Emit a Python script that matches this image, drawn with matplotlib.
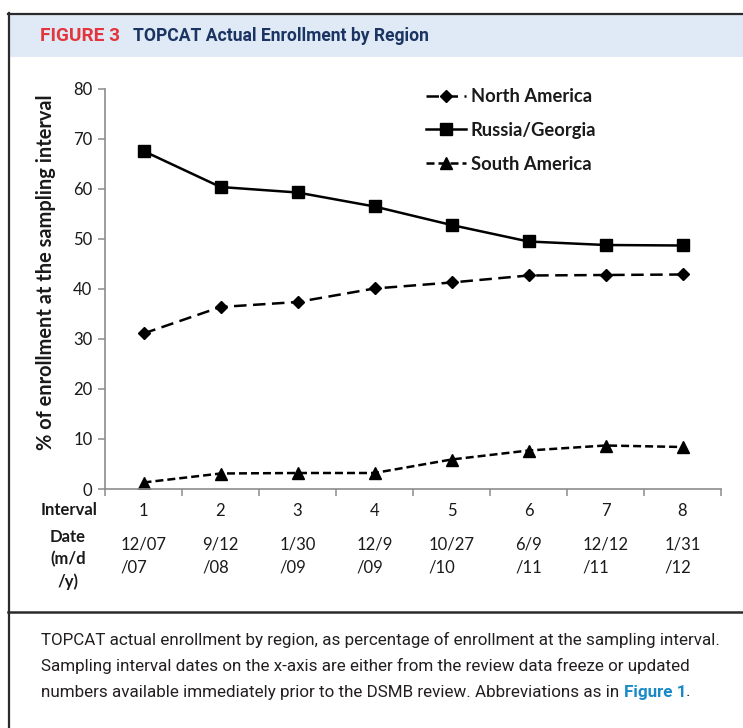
import matplotlib
matplotlib.use('Agg')
import matplotlib.pyplot as plt
import matplotlib.transforms as mtransforms
from matplotlib.patches import Rectangle
from matplotlib.lines import Line2D

# ---------------- data ----------------
intervals = [1, 2, 3, 4, 5, 6, 7, 8]
interval_labels = ['1', '2', '3', '4', '5', '6', '7', '8']
date_labels = ['12/07\n/07', '9/12\n/08', '1/30\n/09', '12/9\n/09',
               '10/27\n/10', '6/9\n/11', '12/12\n/11', '1/31\n/12']
north_america = [31.1, 36.4, 37.4, 40.1, 41.3, 42.7, 42.8, 42.9]
russia_georgia = [67.6, 60.4, 59.3, 56.5, 52.8, 49.5, 48.8, 48.7]
south_america = [1.3, 3.1, 3.2, 3.2, 5.9, 7.7, 8.7, 8.4]
y_ticks = [0, 10, 20, 30, 40, 50, 60, 70, 80]

title_fig = 'FIGURE 3'
title_txt = 'TOPCAT Actual Enrollment by Region'
caption_lines = [
    'TOPCAT actual enrollment by region, as percentage of enrollment at the sampling interval.',
    'Sampling interval dates on the x-axis are either from the review data freeze or updated',
    'numbers available immediately prior to the DSMB review. Abbreviations as in ',
]

W, H = 743, 728
fig = plt.figure(figsize=(W / 100, H / 100), dpi=100)
fig.patch.set_facecolor('white')


def fx(x):
    return x / W


def fy(y):
    return 1 - y / H


chart_font = ['Lato', 'DejaVu Sans']
cond_font = ['Roboto', 'DejaVu Sans']
renderer = fig.canvas.get_renderer()


def fit_w(t, width_px):
    bb = t.get_window_extent(renderer)
    t.set_fontsize(t.get_fontsize() * width_px / bb.width)


def fit_h(t, h_px):
    bb = t.get_window_extent(renderer)
    t.set_fontsize(t.get_fontsize() * h_px / bb.height)


# ---------------- frame / header ----------------
fig.add_artist(Rectangle((fx(9), fy(57)), 1 - fx(9), (57 - 14) / H,
                         transform=fig.transFigure, facecolor='#dfeaf6',
                         edgecolor='none', zorder=0))
fig.add_artist(Line2D([fx(8), 1], [fy(13.5), fy(13.5)], transform=fig.transFigure,
                      color='#2b2b2b', lw=1.6))
fig.add_artist(Line2D([fx(8.5), fx(8.5)], [fy(13), 0], transform=fig.transFigure,
                      color='#2b2b2b', lw=1.6))
fig.add_artist(Line2D([fx(8), 1], [fy(611.5), fy(611.5)], transform=fig.transFigure,
                      color='#2b2b2b', lw=1.8))

t1 = fig.text(fx(40), fy(36), title_fig, family=cond_font, weight='bold',
              color='#e2363c', fontsize=11, va='center', ha='left')
t2 = fig.text(fx(133), fy(36), title_txt, family=cond_font, weight='bold',
              color='#1b3461', fontsize=12.5, va='center', ha='left')
fit_w(t2, 297)
fit_w(t1, 80)

# ---------------- axes ----------------
ax = fig.add_axes([fx(105), fy(489), (721 - 105) / W, (489 - 89) / H])
ax.plot(intervals, north_america, color='black', lw=1.8, dashes=(5.0, 2.6),
        marker='D', markersize=6, label='North America')
ax.plot(intervals, russia_georgia, color='black', lw=1.8, linestyle='-',
        marker='s', markersize=8, label='Russia/Georgia')
ax.plot(intervals, south_america, color='black', lw=1.8, dashes=(3.2, 1.6),
        marker='^', markersize=8, label='South America')

ax.set_xlim(0.5, 8.5)
ax.set_ylim(0, 80)
for s in ['top', 'right']:
    ax.spines[s].set_visible(False)
for s in ['left', 'bottom']:
    ax.spines[s].set_color('#8c8c8c')
    ax.spines[s].set_linewidth(1.2)

ax.set_yticks(y_ticks)
ax.set_yticklabels([str(v) for v in y_ticks], family=chart_font, fontsize=12,
                   color='#1a1a1a')
ax.tick_params(axis='y', direction='out', length=5, width=1.1, color='#8c8c8c', pad=4)
ax.set_xticks([])
ax.set_xticks([i - 0.5 for i in intervals] + [intervals[-1] + 0.5], minor=True)
ax.tick_params(axis='x', which='minor', direction='out', length=5, width=1.1,
               color='#8c8c8c')

bt = mtransforms.blended_transform_factory(ax.transData, fig.transFigure)
for xi, lab, dl in zip(intervals, interval_labels, date_labels):
    ax.text(xi, fy(511), lab, transform=bt, ha='center', va='center',
            family=chart_font, fontsize=12, color='#1a1a1a', clip_on=False)
    ax.text(xi, fy(537), dl, transform=bt, ha='center', va='top',
            multialignment='left', family=chart_font, fontsize=12,
            color='#1a1a1a', linespacing=1.5, clip_on=False)

fig.text(fx(97), fy(510), 'Interval', family=chart_font, weight='bold',
         fontsize=12, ha='right', va='center', color='#1a1a1a')
fig.text(fx(68), fy(529), 'Date\n(m/d\n/y)', family=chart_font, weight='bold',
         fontsize=12, ha='center', va='top', multialignment='center',
         linespacing=1.45, color='#1a1a1a')

yl = fig.text(fx(46), fy(272), '% of enrollment at the sampling interval',
              family=chart_font, weight='bold', fontsize=11.5, rotation=90,
              ha='center', va='center', color='#1a1a1a')
fit_h(yl, 354)

leg = fig.legend(loc='upper left', bbox_to_anchor=(fx(426), fy(88)),
                 bbox_transform=fig.transFigure, frameon=False, numpoints=1,
                 borderpad=0, borderaxespad=0, handlelength=2.2,
                 handletextpad=0.25, labelspacing=0.92,
                 prop={'family': chart_font, 'weight': 'bold', 'size': 13.2})
for t in leg.get_texts():
    t.set_color('#1a1a1a')

# ---------------- caption ----------------
cap_texts = []
ys = [640, 666, 692]
for yy, line in zip(ys, caption_lines):
    cap_texts.append(fig.text(fx(41), fy(yy), line, family=cond_font, fontsize=12,
                              color='#231f20', ha='left', va='center'))
fit_w(cap_texts[0], 677)
fs = cap_texts[0].get_fontsize()
for t in cap_texts[1:]:
    t.set_fontsize(fs)
bb = cap_texts[2].get_window_extent(renderer)
xa = bb.x1
t_fig = fig.text(xa / W, fy(692), 'Figure 1', family=cond_font, fontsize=fs,
                 weight='bold', color='#1a8ac7', ha='left', va='center')
bb2 = t_fig.get_window_extent(renderer)
fig.text(bb2.x1 / W, fy(692), '.', family=cond_font, fontsize=fs,
         color='#231f20', ha='left', va='center')

fig.savefig('out.png', dpi=100, facecolor='white')
